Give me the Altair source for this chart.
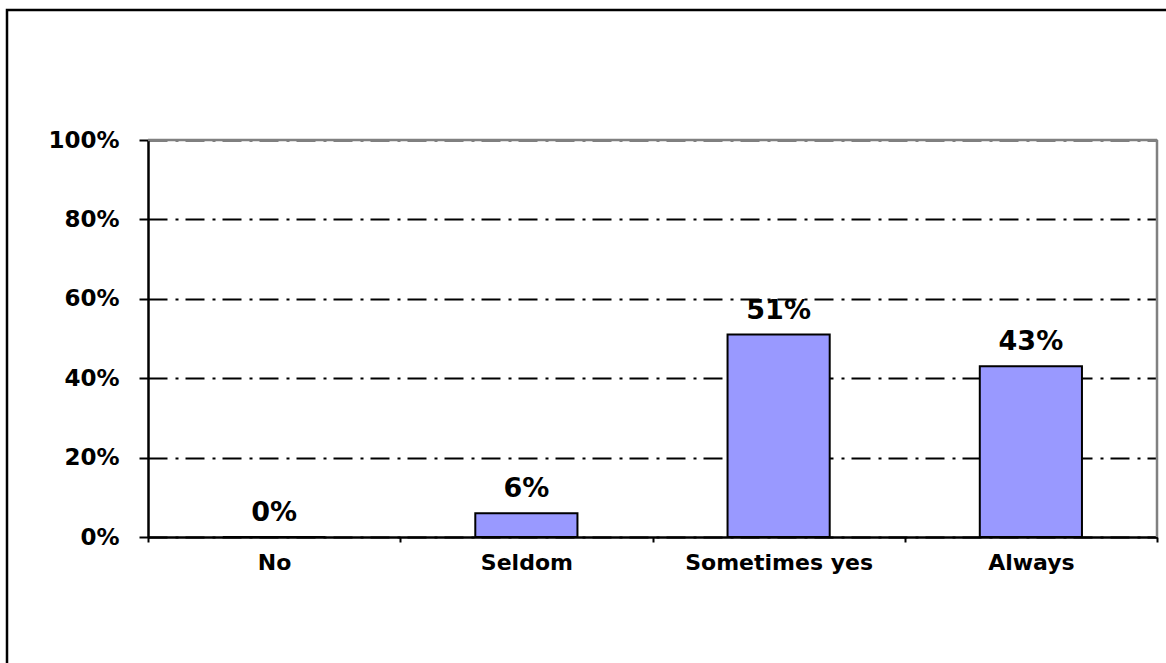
import altair as alt
import pandas as pd

# Survey answers and their shares
categories = ["No", "Seldom", "Sometimes yes", "Always"]
shares = [0.00, 0.06, 0.51, 0.43]
y_ticks = [0, 0.2, 0.4, 0.6, 0.8, 1.0]

df = pd.DataFrame({"answer": categories, "share": shares})

W, H = 1009, 397
FONT = "DejaVu Sans"

x_enc = alt.X(
    "answer:N",
    sort=categories,
    scale=alt.Scale(paddingInner=0, paddingOuter=0),
    axis=alt.Axis(
        title=None,
        labelAngle=0,
        labelFont=FONT,
        labelFontSize=22,
        labelFontWeight="bold",
        labelColor="black",
        labelPadding=10,
        labelLimit=400,
        labelOverlap=False,
        tickBand="extent",
        tickSize=5,
        tickWidth=2,
        tickColor="black",
        domainColor="black",
        domainWidth=2.5,
        grid=False,
    ),
)

y_enc = alt.Y(
    "share:Q",
    scale=alt.Scale(domain=[0, 1], nice=False),
    axis=alt.Axis(
        title=None,
        values=y_ticks,
        format=".0%",
        labelFont=FONT,
        labelFontSize=23,
        labelFontWeight="bold",
        labelColor="black",
        labelPadding=20,
        tickSize=9,
        tickWidth=2,
        tickColor="black",
        domainColor="black",
        domainWidth=2.5,
        grid=True,
        gridColor="black",
        gridWidth=2,
        gridDash=[19, 8, 3, 7],
    ),
)

base = alt.Chart(df)

bars = base.mark_bar(
    color="#9999FF", stroke="black", strokeWidth=2,
    width=alt.RelativeBandSize(0.405),
).encode(
    x=x_enc,
    y=y_enc,
)

labels = base.mark_text(
    font=FONT, fontSize=27, fontWeight="bold", color="black",
    baseline="alphabetic", dy=-16,
).encode(
    x=alt.X("answer:N", sort=categories),
    y=alt.Y("share:Q"),
    text=alt.Text("share:Q", format=".0%"),
)

one = alt.Chart(pd.DataFrame({"k": [0]}))

# grey top and right edges of the plot frame
top_edge = one.mark_rule(color="#808080", strokeWidth=2.5).encode(
    x=alt.value(0), x2=alt.value(W), y=alt.value(0)
)
right_edge = one.mark_rule(color="#808080", strokeWidth=2.5).encode(
    x=alt.value(W), y=alt.value(0), y2=alt.value(H)
)

# outer chart frame
frame = one.mark_rect(filled=False, stroke="black", strokeWidth=2.5).encode(
    x=alt.value(-141), x2=alt.value(1028), y=alt.value(-130), y2=alt.value(533)
)

chart = alt.layer(bars, labels, top_edge, right_edge, frame).properties(
    width=W,
    height=H,
    autosize=alt.AutoSizeParams(type="none"),
    padding={"left": 148, "top": 140, "right": 9, "bottom": 126},
    background="white",
).configure_view(stroke=None)

chart.save("out.html", embed_options={"renderer": "svg", "actions": False})
